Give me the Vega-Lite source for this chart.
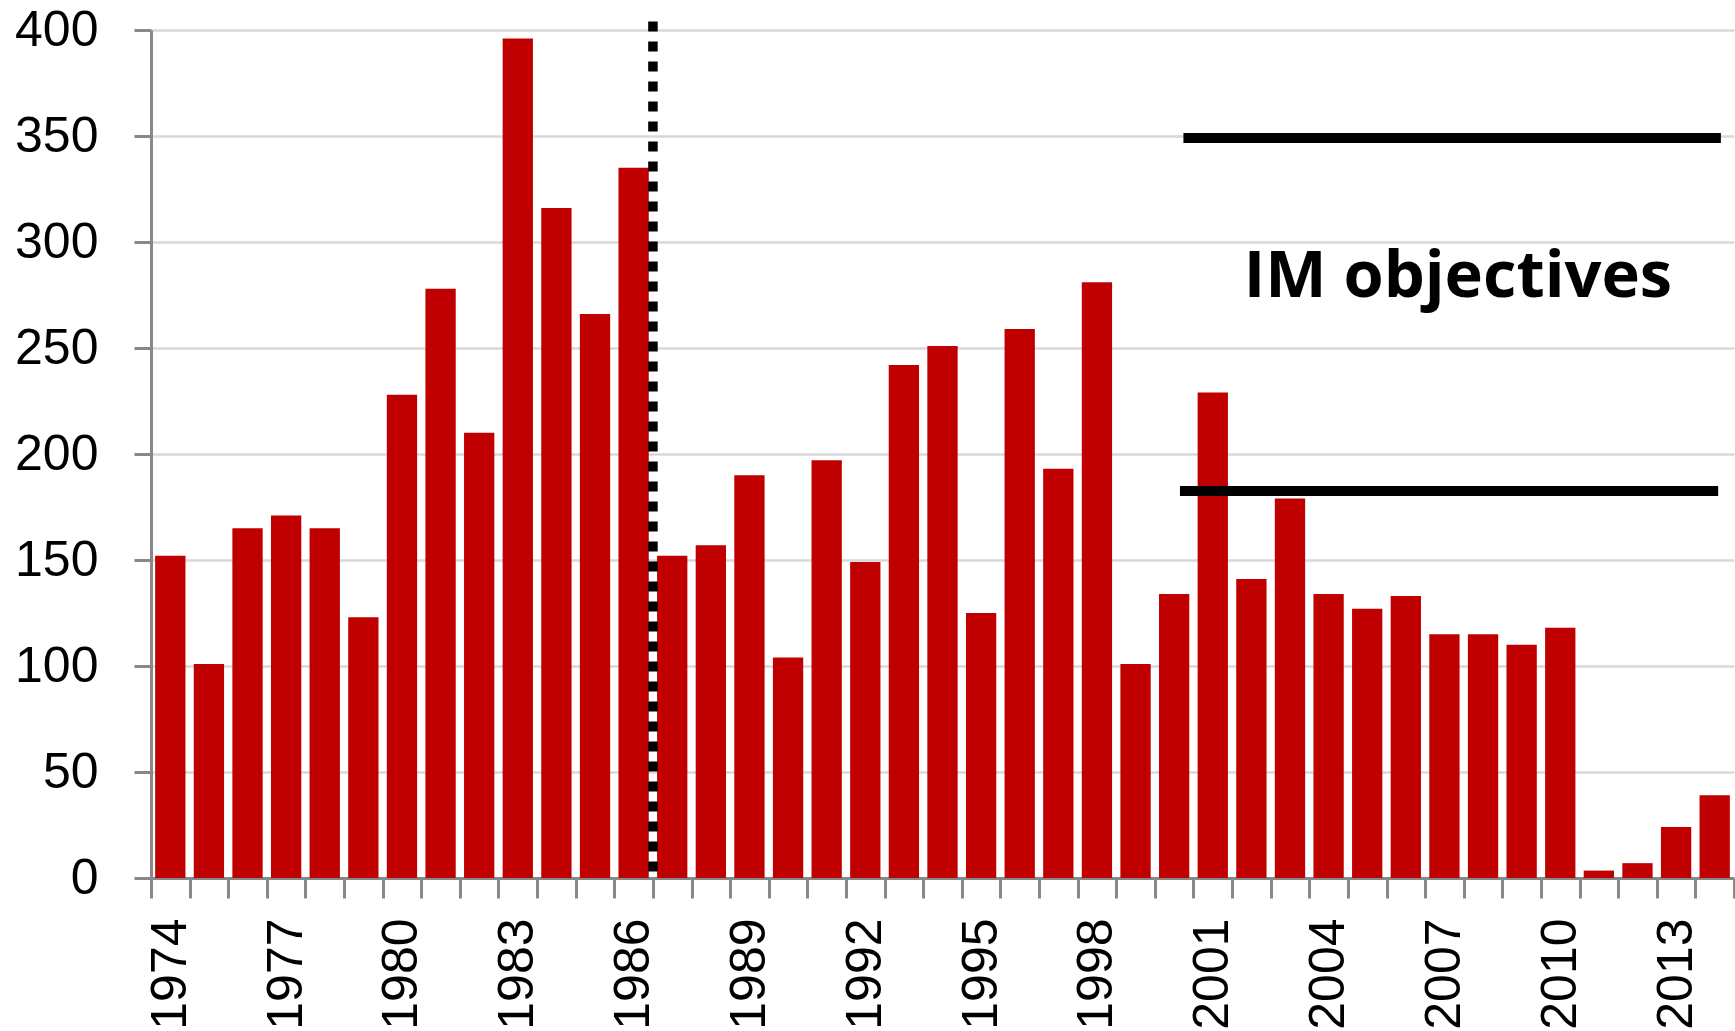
{
  "$schema": "https://vega.github.io/schema/vega-lite/v6.json",
  "width": 1583,
  "height": 848,
  "autosize": {"type": "none"},
  "padding": {"left": 151, "top": 30, "right": 1, "bottom": 153},
  "background": "white",
  "config": {"view": {"stroke": null}},
  "datasets": {
    "counts": [
      {"year": 1974, "count": 152}, {"year": 1975, "count": 101}, {"year": 1976, "count": 165},
      {"year": 1977, "count": 171}, {"year": 1978, "count": 165}, {"year": 1979, "count": 123},
      {"year": 1980, "count": 228}, {"year": 1981, "count": 278}, {"year": 1982, "count": 210},
      {"year": 1983, "count": 396}, {"year": 1984, "count": 316}, {"year": 1985, "count": 266},
      {"year": 1986, "count": 335}, {"year": 1987, "count": 152}, {"year": 1988, "count": 157},
      {"year": 1989, "count": 190}, {"year": 1990, "count": 104}, {"year": 1991, "count": 197},
      {"year": 1992, "count": 149}, {"year": 1993, "count": 242}, {"year": 1994, "count": 251},
      {"year": 1995, "count": 125}, {"year": 1996, "count": 259}, {"year": 1997, "count": 193},
      {"year": 1998, "count": 281}, {"year": 1999, "count": 101}, {"year": 2000, "count": 134},
      {"year": 2001, "count": 229}, {"year": 2002, "count": 141}, {"year": 2003, "count": 179},
      {"year": 2004, "count": 134}, {"year": 2005, "count": 127}, {"year": 2006, "count": 133},
      {"year": 2007, "count": 115}, {"year": 2008, "count": 115}, {"year": 2009, "count": 110},
      {"year": 2010, "count": 118}, {"year": 2011, "count": 3.5}, {"year": 2012, "count": 7},
      {"year": 2013, "count": 24}, {"year": 2014, "count": 39}
    ],
    "objectives": [
      {"objective": 349, "start": 2000.24, "end": 2014.16},
      {"objective": 182.5, "start": 2000.15, "end": 2014.09}
    ],
    "annotations": [
      {"label": "IM objectives"}
    ]
  },
  "layer": [
    {
      "data": {"name": "counts"},
      "mark": {"type": "bar", "orient": "vertical", "width": 30.3, "color": "#C00000"},
      "encoding": {
        "x": {
          "field": "year",
          "type": "quantitative",
          "scale": {"domain": [1973.5, 2014.5], "nice": false, "zero": false, "padding": 0},
          "axis": {
            "title": null,
            "values": [1973.5, 1974.5, 1975.5, 1976.5, 1977.5, 1978.5, 1979.5, 1980.5, 1981.5, 1982.5, 1983.5, 1984.5, 1985.5, 1986.5, 1987.5, 1988.5, 1989.5, 1990.5, 1991.5, 1992.5, 1993.5, 1994.5, 1995.5, 1996.5, 1997.5, 1998.5, 1999.5, 2000.5, 2001.5, 2002.5, 2003.5, 2004.5, 2005.5, 2006.5, 2007.5, 2008.5, 2009.5, 2010.5, 2011.5, 2012.5, 2013.5, 2014.5],
            "tickCount": 200,
            "labelExpr": "((datum.value + 0.5 - 1974) % 3 == 0) ? format(datum.value + 0.5, 'd') : ''",
            "labelAngle": -90,
            "labelOffset": 19.3,
            "labelPadding": 20,
            "labelFont": "Liberation Sans",
            "labelFontSize": 50,
            "labelColor": "#000000",
            "labelFlush": false,
            "labelOverlap": false,
            "labelBound": false,
            "grid": false,
            "domainColor": "#888888",
            "domainWidth": 3,
            "tickColor": "#888888",
            "tickWidth": 3,
            "tickSize": 20
          }
        },
        "y": {
          "field": "count",
          "type": "quantitative",
          "scale": {"domain": [0, 400], "nice": false},
          "axis": {
            "title": null,
            "values": [0, 50, 100, 150, 200, 250, 300, 350, 400],
            "labelFont": "Liberation Sans",
            "labelFontSize": 50,
            "labelColor": "#000000",
            "labelPadding": 36,
            "labelFlush": false,
            "labelOverlap": false,
            "grid": true,
            "gridColor": "#d9d9d9",
            "gridWidth": 2.5,
            "domainColor": "#888888",
            "domainWidth": 3,
            "tickColor": "#888888",
            "tickWidth": 3,
            "tickSize": 17
          }
        }
      }
    },
    {
      "data": {"name": "annotations"},
      "mark": {"type": "rule", "color": "#000000", "strokeWidth": 9.5, "strokeDash": [10, 10], "strokeCap": "butt"},
      "encoding": {
        "x": {"datum": 1986.5, "type": "quantitative"},
        "y": {"datum": 404, "type": "quantitative"},
        "y2": {"datum": 0}
      }
    },
    {
      "data": {"name": "objectives"},
      "mark": {"type": "rule", "color": "#000000", "strokeWidth": 10, "strokeCap": "butt"},
      "encoding": {
        "x": {"field": "start", "type": "quantitative"},
        "x2": {"field": "end"},
        "y": {"field": "objective", "type": "quantitative"}
      }
    },
    {
      "data": {"name": "annotations"},
      "mark": {"type": "text", "font": "Open Sans", "fontWeight": "bold", "fontSize": 65, "color": "#000000", "align": "center", "baseline": "alphabetic"},
      "encoding": {
        "text": {"field": "label"},
        "x": {"datum": 2007.35, "type": "quantitative"},
        "y": {"datum": 274, "type": "quantitative"}
      }
    }
  ]
}
